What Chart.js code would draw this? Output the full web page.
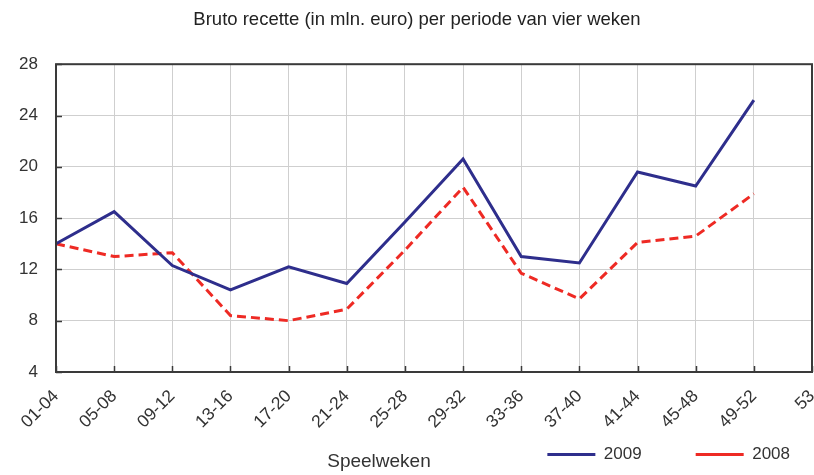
<!DOCTYPE html>
<html>
<head>
<meta charset="utf-8">
<script src="https://cdn.jsdelivr.net/npm/chart.js@4.4.1/dist/chart.umd.min.js"></script>
<style>
  html, body { margin: 0; padding: 0; background: #fff; }
  #wrap { width: 814px; height: 475px; position: relative; }
</style>
</head>
<body>
<div id="wrap"><canvas id="c"></canvas></div>
<script>
const titleText = 'Bruto recette (in mln. euro) per periode van vier weken';
const xAxisTitle = 'Speelweken';
const categories = ['01-04','05-08','09-12','13-16','17-20','21-24','25-28','29-32','33-36','37-40','41-44','45-48','49-52','53'];
const series2009 = [14.0, 16.5, 12.3, 10.4, 12.2, 10.9, 15.7, 20.6, 13.0, 12.5, 19.6, 18.5, 25.2];
const series2008 = [14.0, 13.0, 13.3, 8.4, 8.0, 8.9, 13.5, 18.4, 11.7, 9.7, 14.1, 14.6, 17.9];
const yTicks = [4, 8, 12, 16, 20, 24, 28];

const FONT = "'Liberation Sans', Arial, Helvetica, sans-serif";

const frame = {
  id: 'frame',
  afterLayout(chart) {
    const lg = chart.legend;
    if (lg) { lg.left += 32; lg.right += 32; lg.top -= 2; lg.bottom -= 2; }
    const tb = chart.titleBlock;
    if (tb) { tb.left += 11; tb.right += 11; }
    const xs = chart.scales.x;
    if (xs) { xs.bottom = chart.height; xs.height = xs.bottom - xs.top; }
  },
  afterDatasetsDraw(chart) {
    const {ctx, chartArea: a} = chart;
    ctx.save();
    ctx.strokeStyle = '#3a3a3a';
    ctx.lineWidth = 1.5;
    const xs = chart.scales.x, ys = chart.scales.y;
    ctx.beginPath();
    xs.ticks.forEach((t, i) => {
      const px = Math.round(xs.getPixelForTick(i)) + 0.5;
      ctx.moveTo(px, a.bottom); ctx.lineTo(px, a.bottom - 6);
    });
    ys.ticks.forEach((t, i) => {
      const py = Math.round(ys.getPixelForTick(i)) + 0.5;
      ctx.moveTo(a.left, py); ctx.lineTo(a.left + 6, py);
    });
    ctx.stroke();
    ctx.lineWidth = 2;
    ctx.strokeRect(a.left, a.top, a.right - a.left, a.bottom - a.top);
    ctx.restore();
  },
  afterDraw(chart) {
    const {ctx} = chart;
    ctx.save();
    ctx.fillStyle = '#333';
    ctx.font = '19px ' + FONT;
    ctx.textAlign = 'center';
    ctx.textBaseline = 'middle';
    ctx.fillText(xAxisTitle, 379, 462);
    ctx.restore();
  }
};

new Chart(document.getElementById('c'), {
  type: 'line',
  data: {
    labels: categories,
    datasets: [
      { label: '2009', data: series2009, borderColor: '#2e2e8c', backgroundColor: '#2e2e8c', borderWidth: 3, pointRadius: 0, tension: 0 },
      { label: '2008', data: series2008, borderColor: '#ee2a24', backgroundColor: '#ee2a24', borderWidth: 3, borderDash: [9, 5], pointRadius: 0, tension: 0 }
    ]
  },
  options: {
    responsive: true,
    maintainAspectRatio: false,
    animation: false,
    layout: { padding: { left: 0, right: 2, top: 0, bottom: 0 } },
    plugins: {
      title: {
        display: true,
        text: titleText,
        color: '#222',
        font: { family: FONT, size: 18.5, weight: 'normal' },
        padding: { top: 9, bottom: 33 }
      },
      legend: {
        display: true,
        position: 'bottom',
        align: 'end',
        labels: {
          usePointStyle: true,
          pointStyle: 'line',
          pointStyleWidth: 48,
          color: '#333',
          font: { family: FONT, size: 17 },
          padding: 54
        }
      },
      tooltip: { enabled: false }
    },
    scales: {
      x: {
        offset: false,
        grid: { color: '#cfcfcf', lineWidth: 1, drawTicks: false },
        border: { display: false },
        ticks: {
          color: '#333',
          font: { family: FONT, size: 17.5 },
          maxRotation: 45,
          minRotation: 45,
          autoSkip: false,
          padding: 14
        },
        afterFit(scale) { scale.height = 22; scale.paddingRight = 0; }
      },
      y: {
        min: 4,
        max: 28,
        afterBuildTicks(scale) { scale.ticks = yTicks.map(v => ({ value: v })); },
        grid: { color: '#cfcfcf', lineWidth: 1, drawTicks: false },
        border: { display: false },
        ticks: {
          color: '#333',
          font: { family: FONT, size: 17 },
          padding: 18
        },
        afterFit(scale) { scale.width = 56; }
      }
    }
  },
  plugins: [frame]
});
</script>
</body>
</html>
